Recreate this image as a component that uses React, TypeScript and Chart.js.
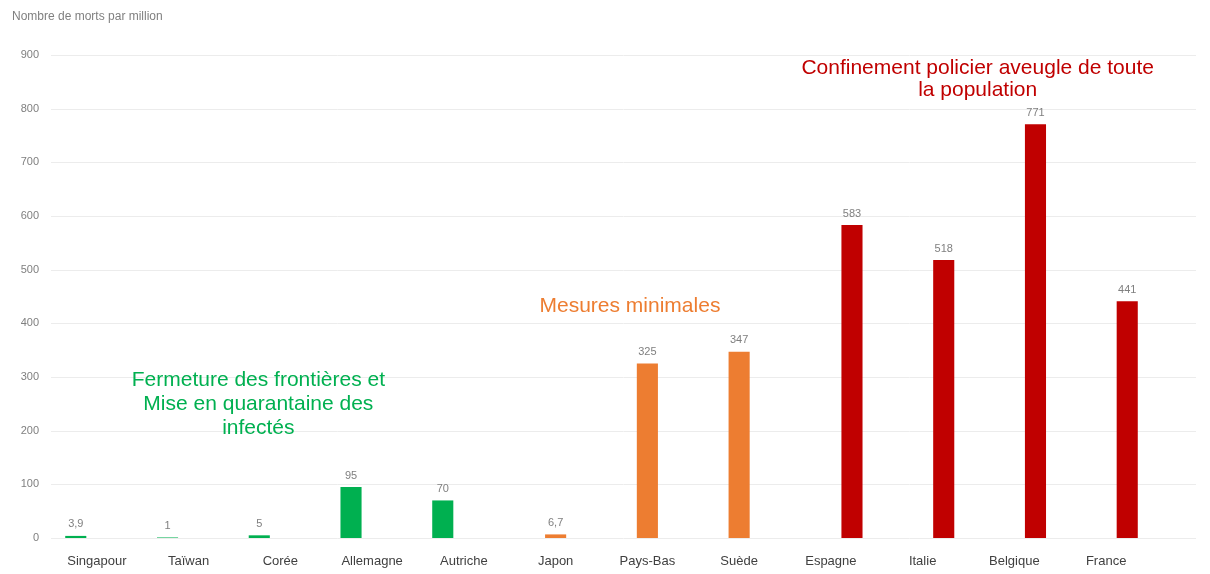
import { useEffect, useRef } from "react";
import { Chart, registerables } from "chart.js";

Chart.register(...registerables);

const categories = [
  "Singapour",
  "Taïwan",
  "Corée",
  "Allemagne",
  "Autriche",
  "Japon",
  "Pays-Bas",
  "Suède",
  "Espagne",
  "Italie",
  "Belgique",
  "France",
];

const fermetureValues = [3.9, 1, 5, 95, 70, null, null, null, null, null, null, null];
const mesuresValues = [null, null, null, null, null, 6.7, 325, 347, null, null, null, null];
const confinementValues = [null, null, null, null, null, null, null, null, 583, 518, 771, 441];

const yTicksMax = 900;
const yTicksStep = 100;

const axisTitle = "Nombre de morts par million";
const fermetureNote = ["Fermeture des frontières et", "Mise en quarantaine des", "infectés"];
const mesuresNote = ["Mesures minimales"];
const confinementNote = ["Confinement policier aveugle de toute", "la population"];

const GREEN = "#00B050";
const ORANGE = "#ED7D31";
const RED = "#C00000";
const FONT = "'Liberation Sans', Arial, sans-serif";

const fmt = (v: number) => String(v).replace(".", ",");

const gridPlugin = {
  id: "extGrid",
  beforeDatasetsDraw(chart: any) {
    const { ctx, chartArea, scales } = chart;
    const y = scales.y;
    ctx.save();
    ctx.strokeStyle = "#ececec";
    ctx.lineWidth = 1;
    y.ticks.forEach((t: any) => {
      const py = Math.round(y.getPixelForValue(t.value)) + 0.5;
      ctx.beginPath();
      ctx.moveTo(chartArea.left, py);
      ctx.lineTo(1196, py);
      ctx.stroke();
    });
    ctx.restore();
  },
};

const valueLabelPlugin = {
  id: "valueLabels",
  afterDatasetsDraw(chart: any) {
    const { ctx } = chart;
    ctx.save();
    ctx.font = `11px ${FONT}`;
    ctx.fillStyle = "#7f7f7f";
    ctx.textAlign = "center";
    ctx.textBaseline = "bottom";
    chart.data.datasets.forEach((ds: any, di: number) => {
      const meta = chart.getDatasetMeta(di);
      meta.data.forEach((el: any, i: number) => {
        const v = ds.data[i];
        if (v === null || v === undefined) return;
        ctx.fillText(fmt(v), el.x, el.y - 6);
      });
    });
    ctx.restore();
  },
};

const notesPlugin = {
  id: "notes",
  afterDraw(chart: any) {
    const { ctx, scales } = chart;
    const x = scales.x;
    const y = scales.y;
    ctx.save();
    ctx.textAlign = "left";
    ctx.textBaseline = "middle";
    ctx.font = `12px ${FONT}`;
    ctx.fillStyle = "#808080";
    ctx.fillText(axisTitle, 12, 17);

    const drawNote = (lines: string[], idx: number, val: number, color: string, lh: number) => {
      ctx.font = `21px ${FONT}`;
      ctx.fillStyle = color;
      ctx.textAlign = "center";
      const cx = x.getPixelForValue(idx);
      const cy = y.getPixelForValue(val);
      lines.forEach((l, k) => ctx.fillText(l, cx, cy + k * lh));
    };
    drawNote(fermetureNote, 1.76, 294, GREEN, 24);
    drawNote(mesuresNote, 5.81, 432, ORANGE, 22);
    drawNote(confinementNote, 9.6, 876, RED, 22);
    ctx.restore();
  },
};

export default function App() {
  const ref = useRef<HTMLCanvasElement>(null);
  useEffect(() => {
    document.body.style.margin = "0";
    const chart = new Chart(ref.current as HTMLCanvasElement, {
      type: "bar",
      data: {
        labels: categories,
        datasets: [
          { label: "Fermeture", data: fermetureValues as any, backgroundColor: GREEN },
          { label: "Mesures", data: mesuresValues as any, backgroundColor: ORANGE },
          { label: "Confinement", data: confinementValues as any, backgroundColor: RED },
        ],
      },
      options: {
        animation: false,
        responsive: false,
        maintainAspectRatio: false,
        datasets: { bar: { categoryPercentage: 0.69, barPercentage: 1.0 } },
        layout: { padding: { top: 55, right: 58, left: 0, bottom: 0 } },
        plugins: { legend: { display: false }, tooltip: { enabled: false } },
        scales: {
          x: {
            grid: { display: false, drawTicks: false },
            border: { display: false },
            ticks: {
              color: "#404040",
              font: { size: 13, family: FONT },
              padding: 16,
              maxRotation: 0,
              autoSkip: false,
            },
            afterFit(s: any) {
              s.height = 36;
            },
          },
          y: {
            min: 0,
            max: yTicksMax,
            grid: { display: false, drawTicks: false },
            border: { display: false },
            ticks: {
              stepSize: yTicksStep,
              padding: 12,
              color: "#7f7f7f",
              font: { size: 11, family: FONT },
            },
            afterFit(s: any) {
              s.width = 51;
            },
          },
        },
      } as any,
      plugins: [gridPlugin, valueLabelPlugin, notesPlugin],
    });
    return () => chart.destroy();
  }, []);
  return <canvas ref={ref} width={1210} height={574} style={{ display: "block" }} />;
}
